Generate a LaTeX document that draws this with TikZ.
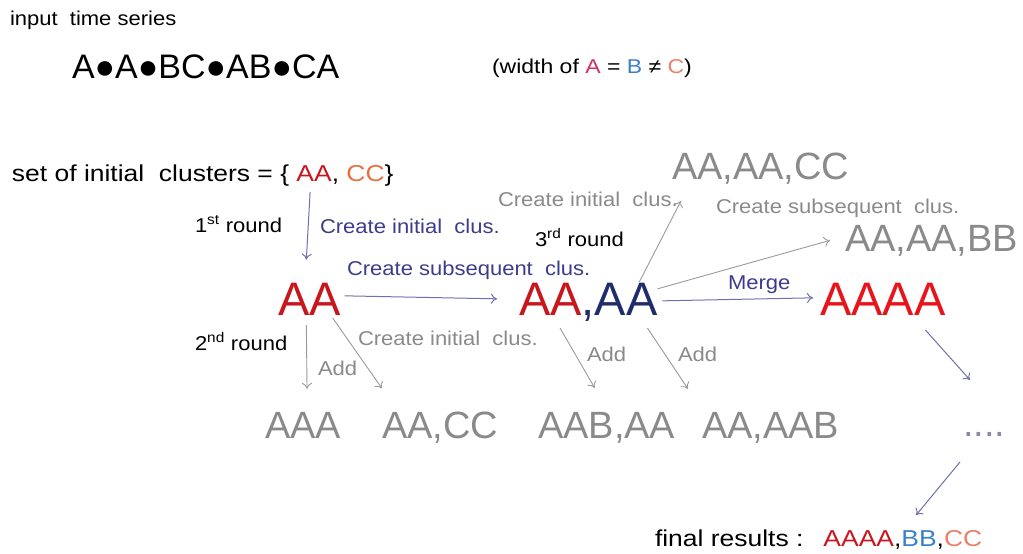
\documentclass[tikz,border=0pt]{standalone}
\usepackage{fontspec}
\setmainfont{Liberation Sans}
\newfontfamily\widefont[FakeStretch=1.10]{Liberation Sans}
\newfontfamily\widerfont[FakeStretch=1.15]{Liberation Sans}
\usetikzlibrary{arrows.meta}

\definecolor{clred}{HTML}{C8161D}
\definecolor{mgred}{HTML}{E8141B}
\definecolor{clnavy}{HTML}{1F2D6B}
\definecolor{lblblue}{HTML}{3C3C8C}
\definecolor{arrblue}{HTML}{7070B0}
\definecolor{clgray}{HTML}{8A8A8A}
\definecolor{arrgray}{HTML}{9A9A9A}
\definecolor{dotgray}{HTML}{8A8AA0}
\definecolor{clorange}{HTML}{E87040}
\definecolor{wa}{HTML}{D03060}
\definecolor{wb}{HTML}{3A80C8}
\definecolor{wc}{HTML}{E8806A}

\newcommand{\fs}[1]{\fontsize{#1}{#1}\selectfont}

\begin{document}
\begin{tikzpicture}[x=1pt,y=-1pt,
  txt/.style={anchor=base west,inner sep=0pt,outer sep=0pt},
  lbl/.style={txt,font=\widefont\fs{20}},
  blbl/.style={lbl,text=lblblue},
  glbl/.style={lbl,text=clgray},
  settxt/.style={txt,font=\widerfont\fs{23}},
  big/.style={txt,font=\fs{47}},
  gclus/.style={txt,font=\fs{38},text=clgray},
  barrow/.style={draw=arrblue,line width=1pt,-{To[length=6pt,width=10pt]}},
  garrow/.style={draw=arrgray,line width=0.9pt,-{To[length=6pt,width=10pt]}}]
\useasboundingbox (0,0) rectangle (1023,554);

% header
\node[txt,font=\widefont\fs{20}] (input) at (10,25) {input\ \ time series};
\node[txt,font=\fs{34}] (series) at (72,78) {A●A●BC●AB●CA};
\node[txt,font=\widerfont\fs{20}] (width) at (492,73)
  {(width of {\color{wa}A} = {\color{wb}B} ≠ {\color{wc}C})};

% initial clusters
\node[settxt] (set) at (12,181) {set of initial\ \ clusters = \{\ \null};
\node[settxt,text=clred] (setaa) at (set.base east) {AA};
\node[settxt] (setcm) at (setaa.base east) {,\ \null};
\node[settxt,text=clorange] (setcc) at (setcm.base east) {CC};
\node[settxt] (setend) at (setcc.base east) {\}};

% main row
\node[big,text=clred] (aa) at (278,315) {AA};
\node[big] (aaaa2) at (519,315) {\color{clred}AA\color{clnavy},AA};
\node[big,text=mgred] (merged) at (820,315) {AAAA};

% upper results
\node[gclus] (aaaacc) at (672,179) {AA,AA,CC};
\node[gclus] (aaaabb) at (845,251) {AA,AA,BB};

% lower results
\node[gclus] (aaa) at (265,438) {AAA};
\node[gclus] (aacc) at (382,438) {AA,CC};
\node[gclus] (aabaa) at (538,438) {AAB,AA};
\node[gclus] (aaaab) at (702,438) {AA,AAB};
\node[txt,font=\fs{38},text=dotgray] (dots) at (963,436) {....};

% final
\node[settxt] (final) at (655,546) {final results :};
\node[settxt,text=clred] (faaaa) at ([xshift=20pt]final.base east) {AAAA};
\node[settxt] (fc1) at (faaaa.base east) {,};
\node[settxt,text=wb] (fbb) at (fc1.base east) {BB};
\node[settxt] (fc2) at (fbb.base east) {,};
\node[settxt,text=wc] (fcc) at (fc2.base east) {CC};

% labels
\node[lbl] (r1) at (195,232) {1\textsuperscript{st} round};
\node[lbl] (r2) at (195,350) {2\textsuperscript{nd} round};
\node[lbl] (r3) at (535,246) {3\textsuperscript{rd} round};
\node[blbl] (l1) at (320,233) {Create initial\ \ clus.};
\node[blbl] (l2) at (347,275) {Create subsequent\ \ clus.};
\node[blbl] (l3) at (728,289) {Merge};
\node[glbl] (l4) at (498,206) {Create initial\ \ clus.};
\node[glbl] (l5) at (716,213) {Create subsequent\ \ clus.};
\node[glbl] (l6) at (358,345) {Create initial\ \ clus.};
\node[glbl] (a1) at (318,375) {Add};
\node[glbl] (a2) at (587,361) {Add};
\node[glbl] (a3) at (678,361) {Add};

% connectors
\draw[barrow] ([xshift=-4pt,yshift=-11pt]setaa.south) -- ([xshift=-3pt,yshift=23pt]aa.north);
\draw[barrow] ([xshift=4pt,yshift=3pt]aa.east) -- ([xshift=-22pt,yshift=3pt]aaaa2.west);
\draw[barrow] ([xshift=5pt,yshift=1pt]aaaa2.east) -- ([xshift=-7pt,yshift=1pt]merged.west);
\draw[garrow] ([xshift=-18pt,yshift=1pt]aaaa2.north east) -- ([xshift=9pt,yshift=-17pt]aaaacc.south west);
\draw[garrow] ([xshift=0pt,yshift=13pt]aaaa2.east) -- ([xshift=-15pt,yshift=0pt]aaaabb.west);
\draw[garrow] ([xshift=-3pt,yshift=-10pt]aa.south) -- ([xshift=4pt,yshift=23pt]aaa.north);
\draw[garrow] ([xshift=-8pt,yshift=-3pt]aa.south east) -- ([xshift=0pt,yshift=23pt]aacc.north west);
\draw[garrow] ([xshift=41pt,yshift=-7pt]aaaa2.south west) -- ([xshift=-12pt,yshift=24pt]aabaa.north);
\draw[garrow] ([xshift=-10pt,yshift=-7pt]aaaa2.south east) -- ([xshift=-14pt,yshift=23pt]aaaab.north west);
\draw[barrow] ([xshift=-20pt,yshift=-15pt]merged.south east) -- ([xshift=7pt,yshift=52pt]dots.north west);
\draw[barrow] ([xshift=-3pt,yshift=-26pt]dots.south west) -- ([xshift=-3pt,yshift=15pt]fbb.north);
\end{tikzpicture}
\end{document}
